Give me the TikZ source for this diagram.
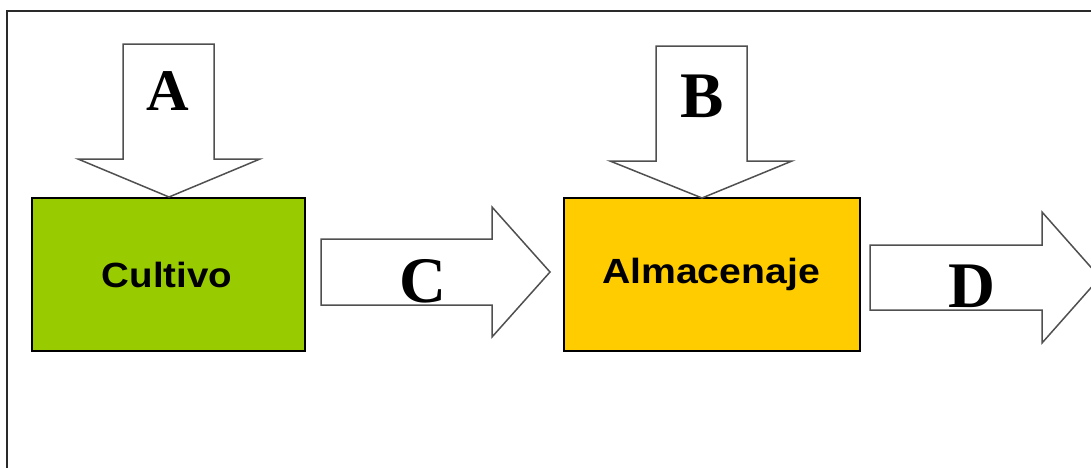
\documentclass[tikz,border=0pt]{standalone}
\usepackage{fontspec}
\newfontfamily\letterfont{Liberation Serif}
\newfontfamily\wordfont{Liberation Sans}
\definecolor{cultgreen}{HTML}{99CC00}
\definecolor{almyellow}{HTML}{FFCC00}
\definecolor{arrowline}{HTML}{505050}
\definecolor{framecol}{HTML}{2A2A2A}
\tikzset{
  blockarrow/.style={draw=arrowline, fill=white, line width=1.5pt, line join=miter},
  stagebox/.style={draw=black, line width=1.3pt, minimum width=273pt, minimum height=153pt, inner sep=0pt},
  bigletter/.style={anchor=base, inner sep=0pt, font=\letterfont\bfseries\fontsize{65}{65}\selectfont},
  stagetext/.style={anchor=base, inner sep=0pt, font=\wordfont\bfseries\fontsize{35}{35}\selectfont},
}
\begin{document}
\begin{tikzpicture}[x=1pt,y=-1pt]
\useasboundingbox (0,0) rectangle (1091,467);
\begin{scope}
\clip (0,0) rectangle (1091,467);
% frame
\draw[framecol, line width=2.2pt] (7,480) -- (7,11) -- (1100,11);
% boxes
\node[stagebox, fill=cultgreen] (cult) at (168.5,274.5) {};
\node[stagebox, fill=almyellow, minimum width=296pt] (alm) at (712,274.5) {};
% block arrows
\draw[blockarrow] (123,44) -- (214,44) -- (214,159) -- (260,159) -- (169,197) -- (78,159) -- (123,159) -- cycle;
\draw[blockarrow] (656,46) -- (747,46) -- (747,161) -- (792,161) -- (702,198) -- (610,161) -- (656,161) -- cycle;
\draw[blockarrow] (321,239) -- (492,239) -- (492,207) -- (550,272) -- (492,337) -- (492,305) -- (321,305) -- cycle;
\draw[blockarrow] (870,245) -- (1042,245) -- (1042,212) -- (1100,277.5) -- (1042,343) -- (1042,310) -- (870,310) -- cycle;
% labels
\node[bigletter, font=\letterfont\bfseries\fontsize{59}{59}\selectfont] (la) at (168,110) {A};
\node[bigletter] (lb) at (702,117) {B};
\node[bigletter] (lc) at (423,302) {C};
\node[bigletter] (ld) at (972,307) {D};
\node[stagetext] (tcult) at (167,287) {\scalebox{1.1}[1]{Cultivo}};
\node[stagetext] (talm) at (711,283) {\scalebox{1.12}[1]{Almacenaje}};
\end{scope}
\end{tikzpicture}
\end{document}
